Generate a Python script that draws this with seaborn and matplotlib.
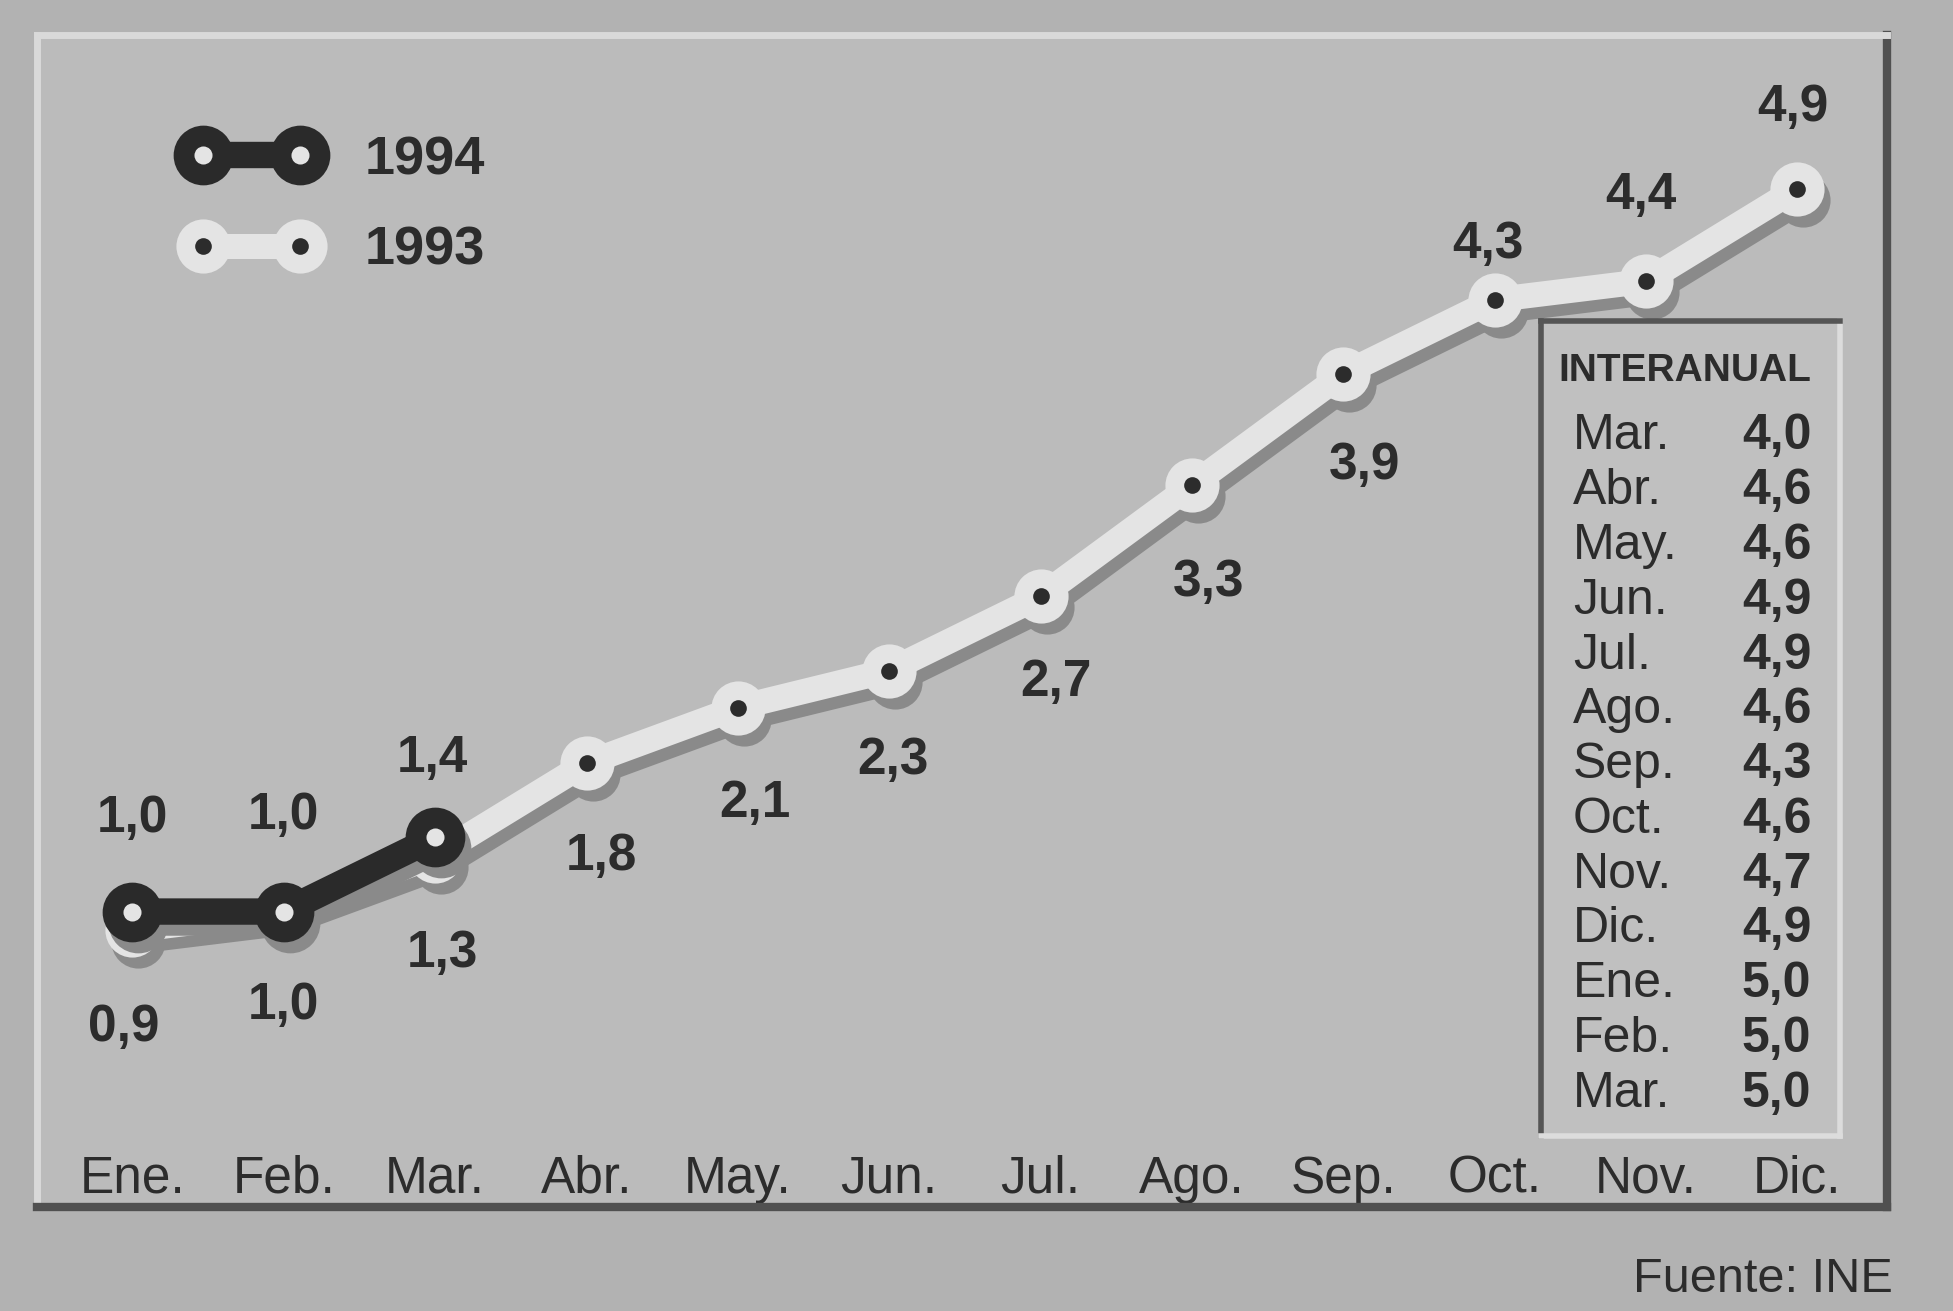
import matplotlib
matplotlib.use("Agg")
import matplotlib.pyplot as plt
import matplotlib.transforms as mtransforms
from matplotlib.lines import Line2D
import seaborn as sns

# Datos (IPC acumulado, %)
months = ["Ene.", "Feb.", "Mar.", "Abr.", "May.", "Jun.", "Jul.", "Ago.",
          "Sep.", "Oct.", "Nov.", "Dic."]
ipc_1993 = [0.9, 1.0, 1.3, 1.8, 2.1, 2.3, 2.7, 3.3, 3.9, 4.3, 4.4, 4.9]
ipc_1994 = [1.0, 1.0, 1.4]

inter_months = ["Mar.", "Abr.", "May.", "Jun.", "Jul.", "Ago.", "Sep.",
                "Oct.", "Nov.", "Dic.", "Ene.", "Feb.", "Mar."]
inter_values = [4.0, 4.6, 4.6, 4.9, 4.9, 4.6, 4.3, 4.6, 4.7, 4.9, 5.0, 5.0, 5.0]

# label offsets in points (dx, dy) from each point
off_1993 = [(-6, -70), (0, -68), (5, -70), (11, -67), (12, -69), (3, -65),
            (11, -62), (12, -70), (15, -66), (-5, 40), (-4, 62), (-3, 58)]
off_1994 = [(0, 67), (0, 69), (-2, 57)]

BG = "#b2b2b2"
PANEL = "#bbbbbb"
INK = "#2c2c2c"
LIGHT = "#e4e4e4"
DARK = "#2a2a2a"
SHADOW = "#8a8a8a"

sns.set_style("white")
plt.rcParams["font.family"] = ["Liberation Sans", "DejaVu Sans"]

fig = plt.figure(figsize=(19.53, 13.11), dpi=100, facecolor=BG)
ax = fig.add_axes([0.019, 0.079, 0.947, 0.894], facecolor=PANEL)

shadow = ax.transData + mtransforms.ScaledTranslation(0.06, -0.11, fig.dpi_scale_trans)

x93 = list(range(len(ipc_1993)))
x94 = list(range(len(ipc_1994)))

# 1993: light line with shadow
sns.lineplot(x=x93, y=ipc_1993, ax=ax, color=SHADOW, linewidth=18, marker="o",
             markersize=39, markeredgewidth=0, transform=shadow, zorder=2)
sns.lineplot(x=x93, y=ipc_1993, ax=ax, color=LIGHT, linewidth=18, marker="o",
             markersize=39, markeredgewidth=0, zorder=3)
sns.lineplot(x=x93, y=ipc_1993, ax=ax, color=INK, linewidth=0, marker="o",
             markersize=12, markeredgewidth=0, zorder=4)

# 1994: dark line with shadow
sns.lineplot(x=x94, y=ipc_1994, ax=ax, color=SHADOW, linewidth=19, marker="o",
             markersize=43, markeredgewidth=0, transform=shadow, zorder=5)
sns.lineplot(x=x94, y=ipc_1994, ax=ax, color=DARK, linewidth=19, marker="o",
             markersize=43, markeredgewidth=0, zorder=6)
sns.lineplot(x=x94, y=ipc_1994, ax=ax, color=LIGHT, linewidth=0, marker="o",
             markersize=13, markeredgewidth=0, zorder=7)

fmt = lambda v: f"{v:.1f}".replace(".", ",")
for xi, v, (dx, dy) in zip(x93, ipc_1993, off_1993):
    ax.annotate(fmt(v), (xi, v), xytext=(dx, dy), textcoords="offset points",
                ha="center", va="center", fontsize=37, fontweight="bold", color=INK)
for xi, v, (dx, dy) in zip(x94, ipc_1994, off_1994):
    ax.annotate(fmt(v), (xi, v), xytext=(dx, dy), textcoords="offset points",
                ha="center", va="center", fontsize=37, fontweight="bold", color=INK)

ax.set_xlim(-0.63, 11.59)
ax.set_ylim(-0.596, 5.726)
ax.set_xticks(range(len(months)))
ax.set_xticklabels(months, fontsize=37, color=INK)
ax.tick_params(axis="x", length=0, pad=-38)
ax.set_yticks([])
ax.set_xlabel("")
ax.set_ylabel("")

# bevelled frame
for side in ["top", "left"]:
    ax.spines[side].set_color("#d9d9d9")
    ax.spines[side].set_linewidth(5)
for side in ["right", "bottom"]:
    ax.spines[side].set_color("#505050")
    ax.spines[side].set_linewidth(6)

# legend
h94 = (Line2D([], [], color=DARK, lw=19, marker="o", ms=43, mew=0),
       Line2D([], [], color=LIGHT, lw=0, marker="o", ms=13, mew=0))
h93 = (Line2D([], [], color=LIGHT, lw=18, marker="o", ms=39, mew=0),
       Line2D([], [], color=INK, lw=0, marker="o", ms=12, mew=0))
leg = ax.legend([h94, h93], ["1994", "1993"], loc="upper left",
                bbox_to_anchor=(0.081, 0.915), numpoints=2, handlelength=2.39,
                handletextpad=0.89, labelspacing=0.75, frameon=False,
                borderpad=0, borderaxespad=0, prop={"size": 39, "weight": "bold"})
for t in leg.get_texts():
    t.set_color(INK)

# interanual table
ins = ax.inset_axes([0.813, 0.061, 0.162, 0.695], facecolor="#c0c0c0")
ins.set_xlim(0, 1)
ins.set_ylim(12.77, -2.10)
ins.set_xticks([])
ins.set_yticks([])
for side in ["top", "left"]:
    ins.spines[side].set_color("#555555")
    ins.spines[side].set_linewidth(4)
for side in ["right", "bottom"]:
    ins.spines[side].set_color("#dcdcdc")
    ins.spines[side].set_linewidth(4)
ins.text(0.48, -1.19, "INTERANUAL", ha="center", va="center", fontsize=28,
         fontweight="bold", color=INK,
         family=["Liberation Sans Narrow", "Liberation Sans"])
for i, (m, v) in enumerate(zip(inter_months, inter_values)):
    ins.text(0.107, i, m, ha="left", va="center", fontsize=36, color=INK)
    ins.text(0.903, i, fmt(v), ha="right", va="center", fontsize=36,
             fontweight="bold", color=INK)

fig.text(0.969, 0.024, "Fuente: INE", ha="right", va="center", fontsize=35, color=INK)

fig.savefig("out.png", dpi=100, facecolor=BG)
